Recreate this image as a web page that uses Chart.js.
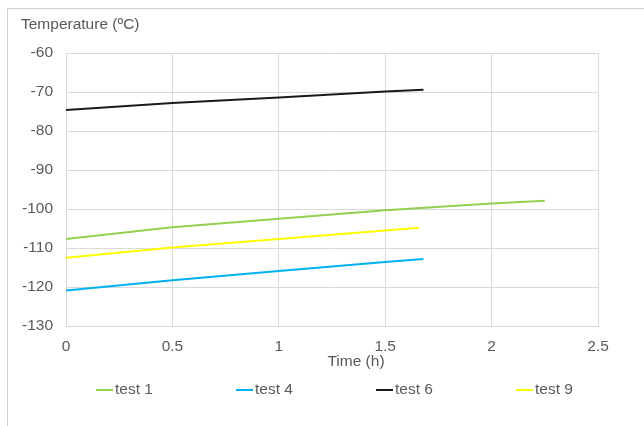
<!DOCTYPE html>
<html>
<head>
<meta charset="utf-8">
<script src="https://cdn.jsdelivr.net/npm/chart.js@4/dist/chart.umd.min.js"></script>
<style>
    html, body { margin: 0; padding: 0; background: #fff; }
    #wrap { width: 644px; height: 426px; position: relative; }
</style>
</head>
<body>
<div id="wrap"><canvas id="tempChart" width="644" height="426"></canvas></div>
<script>
// Tiempos (h) y temperaturas (ºC) de cada ensayo
var times1 = [0, 0.5, 1, 1.5, 2, 2.25];
var test1 = [-107.7, -104.7, -102.5, -100.3, -98.6, -97.9];

var times4 = [0, 0.5, 1, 1.5, 1.68];
var test4 = [-120.9, -118.3, -115.9, -113.6, -112.8];

var times6 = [0, 0.5, 1, 1.5, 1.68];
var test6 = [-74.6, -72.8, -71.4, -69.9, -69.4];

var times9 = [0, 0.5, 1, 1.5, 1.66];
var test9 = [-112.5, -109.9, -107.7, -105.5, -104.8];

var seriesNames = ['test 1', 'test 4', 'test 6', 'test 9'];
var seriesColors = ['#92d050', '#00b0f0', '#1a1a1a', '#ffff00'];

var yTitle = 'Temperature (ºC)';
var xTitle = 'Time (h)';

var textColor = '#595959';
var gridColor = '#d9d9d9';
var fontFamily = '"Liberation Sans", Arial, sans-serif';
var fontSize = 15.5;

function toPoints(xs, ys) {
    var pts = [];
    xs.forEach(function(x, i) {
        pts.push({ x: x, y: ys[i] });
    });
    return pts;
}

var allTimes = [times1, times4, times6, times9];
var allTemps = [test1, test4, test6, test9];

var datasets = seriesNames.map(function(name, i) {
    return {
        label: name,
        data: toPoints(allTimes[i], allTemps[i]),
        borderColor: seriesColors[i],
        backgroundColor: seriesColors[i],
        borderWidth: 2,
        pointRadius: 0,
        showLine: true,
        tension: 0
    };
});

// Marco, titulos de ejes y leyenda
var decorPlugin = {
    id: 'decor',
    beforeDraw: function(chart) {
        var ctx = chart.ctx;
        ctx.save();
        ctx.strokeStyle = '#d0d0d0';
        ctx.lineWidth = 1;
        ctx.beginPath();
        ctx.moveTo(7.5, 426);
        ctx.lineTo(7.5, 8.5);
        ctx.lineTo(644, 8.5);
        ctx.stroke();
        ctx.restore();
    },
    afterDraw: function(chart) {
        var ctx = chart.ctx;
        ctx.save();
        ctx.font = fontSize + 'px ' + fontFamily;
        ctx.fillStyle = textColor;
        ctx.textBaseline = 'middle';
        ctx.textAlign = 'left';
        ctx.fillText(yTitle, 21, 25);
        ctx.textAlign = 'center';
        ctx.fillText(xTitle, 356, 362);

        // leyenda
        ctx.textAlign = 'left';
        chart.data.datasets.forEach(function(ds, i) {
            var x = 96 + i * 140;
            var y = 390;
            ctx.strokeStyle = ds.borderColor;
            ctx.lineWidth = 2;
            ctx.beginPath();
            ctx.moveTo(x, y);
            ctx.lineTo(x + 17, y);
            ctx.stroke();
            ctx.fillStyle = textColor;
            ctx.fillText(ds.label, x + 19, y);
        });
        ctx.restore();
    }
};

var ctx = document.getElementById('tempChart');
new Chart(ctx, {
    type: 'scatter',
    data: { datasets: datasets },
    options: {
        responsive: false,
        animation: false,
        layout: {
            padding: { top: 53, right: 46, left: 0, bottom: 0 }
        },
        plugins: {
            legend: { display: false },
            tooltip: { enabled: false }
        },
        scales: {
            x: {
                type: 'linear',
                min: 0,
                max: 2.5,
                ticks: {
                    stepSize: 0.5,
                    color: textColor,
                    padding: 11,
                    font: { family: fontFamily, size: fontSize },
                    callback: function(value) { return String(value); }
                },
                grid: { color: gridColor, drawTicks: false },
                border: { color: gridColor },
                afterFit: function(scale) { scale.height = 100; }
            },
            y: {
                min: -130,
                max: -60,
                ticks: {
                    stepSize: 10,
                    color: textColor,
                    padding: 13,
                    font: { family: fontFamily, size: fontSize }
                },
                grid: { color: gridColor, drawTicks: false },
                border: { color: gridColor },
                afterFit: function(scale) { scale.width = 66; }
            }
        }
    },
    plugins: [decorPlugin]
});
</script>
</body>
</html>
